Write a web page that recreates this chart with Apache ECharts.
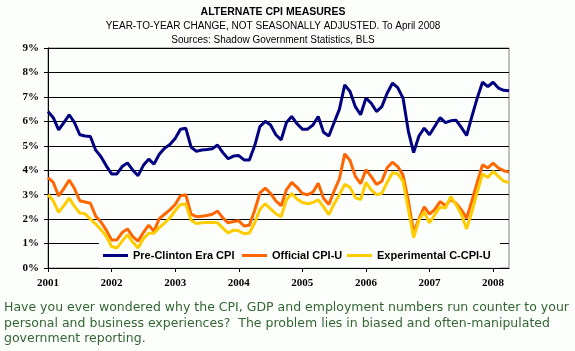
<!DOCTYPE html>
<html><head><meta charset="utf-8">
<script src="https://cdn.jsdelivr.net/npm/echarts@6/dist/echarts.min.js"></script>
<style>html,body{margin:0;padding:0;background:#FCFEFC;}#c{width:575px;height:351px;}</style>
</head><body><div id="c"></div>
<script>
const years = ['2001','2002','2003','2004','2005','2006','2007','2008'];
const monthsInLast = 4;
const titleText = 'ALTERNATE CPI MEASURES';
const subText = 'YEAR-TO-YEAR CHANGE, NOT SEASONALLY ADJUSTED. To April 2008';
const sourceText = 'Sources: Shadow Government Statistics, BLS';
const noteText = 'Have you ever wondered why the CPI, GDP and employment numbers run counter to your\npersonal and business experiences?  The problem lies in biased and often-manipulated\ngovernment reporting.';
const seriesNames = ['Pre-Clinton Era CPI', 'Official CPI-U', 'Experimental C-CPI-U'];
const preClinton = [
 6.4, 6.15, 5.65, 5.95, 6.27, 5.95, 5.45, 5.4, 5.38, 4.82, 4.55, 4.18,
 3.85, 3.85, 4.15, 4.3, 4.0, 3.78, 4.2, 4.45, 4.25, 4.65, 4.9, 5.05,
 5.3, 5.68, 5.72, 4.95, 4.77, 4.83, 4.85, 4.88, 5.03, 4.72, 4.47, 4.58,
 4.6, 4.42, 4.42, 5.0, 5.79, 6.0, 5.85, 5.45, 5.24, 5.95, 6.2, 5.9,
 5.68, 5.68, 5.85, 6.2, 5.55, 5.4, 5.95, 6.5, 7.49, 7.22, 6.6, 6.27,
 6.95, 6.74, 6.4, 6.6, 7.15, 7.56, 7.38, 6.95, 5.6, 4.72, 5.4, 5.72,
 5.45, 5.8, 6.15, 5.95, 6.02, 6.05, 5.75, 5.42, 6.2, 6.95, 7.6, 7.42,
 7.6, 7.36, 7.27, 7.25
];
const officialCPI = [
 3.7, 3.5, 2.95, 3.25, 3.6, 3.25, 2.75, 2.7, 2.65, 2.12, 1.88, 1.55,
 1.15, 1.15, 1.45, 1.6, 1.28, 1.1, 1.45, 1.75, 1.5, 2.02, 2.2, 2.38,
 2.6, 2.95, 3.0, 2.2, 2.1, 2.12, 2.15, 2.2, 2.33, 2.05, 1.85, 1.9,
 1.93, 1.72, 1.75, 2.35, 3.07, 3.27, 3.05, 2.75, 2.55, 3.2, 3.5, 3.3,
 3.05, 3.0, 3.1, 3.47, 2.85, 2.6, 3.15, 3.65, 4.67, 4.4, 3.75, 3.45,
 4.02, 3.74, 3.42, 3.55, 4.1, 4.33, 4.15, 3.8, 2.75, 1.45, 2.0, 2.5,
 2.2, 2.4, 2.72, 2.55, 2.8, 2.65, 2.38, 2.04, 2.75, 3.5, 4.22, 4.09,
 4.29, 4.09, 3.98, 3.92
];
const experimental = [
 3.0, 2.75, 2.28, 2.55, 2.86, 2.52, 2.25, 2.22, 2.0, 1.8, 1.57, 1.3,
 0.88, 0.82, 1.1, 1.36, 1.05, 0.82, 1.2, 1.42, 1.42, 1.65, 1.84, 2.05,
 2.35, 2.6, 2.62, 1.95, 1.82, 1.85, 1.86, 1.86, 1.85, 1.63, 1.43, 1.55,
 1.52, 1.4, 1.43, 1.84, 2.4, 2.63, 2.42, 2.22, 2.1, 2.79, 3.05, 2.82,
 2.68, 2.63, 2.68, 2.79, 2.5, 2.18, 2.62, 3.0, 3.42, 3.3, 2.88, 2.8,
 3.5, 3.2, 3.0, 3.05, 3.5, 3.9, 3.85, 3.55, 2.4, 1.25, 1.95, 2.3,
 1.85, 2.18, 2.5, 2.45, 2.92, 2.6, 2.2, 1.6, 2.3, 3.1, 3.85, 3.7,
 3.95, 3.75, 3.55, 3.5
];
const colors = ['#000080', '#FF6600', '#FFCC00'];

const months = [];
years.forEach((y, i) => {
  const n = i === years.length - 1 ? monthsInLast : 12;
  for (let m = 1; m <= n; m++) months.push(y + '-' + (m < 10 ? '0' + m : m));
});

const chart = echarts.init(document.getElementById('c'), null, {renderer: 'canvas'});
const serifBold = {fontFamily: 'Liberation Serif', fontWeight: 'bold', fontSize: 11, color: '#000'};
const legendText = {fontFamily: 'Liberation Sans', fontWeight: 'bold', fontSize: 11, color: '#000'};
const legendLefts = [103, 242, 347];

chart.setOption({
  backgroundColor: '#FCFEFC',
  animation: false,
  grid: {left: 48, right: 66, top: 48, bottom: 83, show: true, borderColor: '#808080', borderWidth: 1, backgroundColor: '#FCFEFC'},
  legend: seriesNames.map((n, i) => ({
    data: [n], left: legendLefts[i], top: 250, icon: 'rect', itemWidth: 25, itemHeight: 3,
    selectedMode: false, textStyle: legendText, padding: 0, z: 5
  })),
  xAxis: {
    type: 'category', data: months, boundaryGap: false,
    axisLine: {lineStyle: {color: '#000', width: 1}},
    axisTick: {show: true, length: 4, interval: (i) => i % 12 === 0, lineStyle: {color: '#000'}},
    axisLabel: Object.assign({interval: (i) => i % 12 === 0, margin: 10, formatter: (v) => v.slice(0, 4)}, serifBold),
    splitLine: {show: false}
  },
  yAxis: {
    type: 'value', min: 0, max: 9, interval: 1,
    axisLine: {show: true, lineStyle: {color: '#000', width: 1}},
    axisTick: {show: true, length: 4, lineStyle: {color: '#000'}},
    axisLabel: Object.assign({margin: 9, formatter: '{value}%'}, serifBold),
    splitLine: {show: true, lineStyle: {color: '#000', width: 1}}
  },
  graphic: [
    {type: 'rect', z: 1, shape: {x: 99, y: 243, width: 401, height: 24.5}, style: {fill: '#FCFEFC'}},
    {type: 'text', z: 10, x: 273, y: 12, style: {text: titleText, font: 'bold 10.5px "Liberation Sans"', fill: '#000', align: 'center', verticalAlign: 'middle', textAlign: 'center', textVerticalAlign: 'middle'}},
    {type: 'text', z: 10, x: 273, y: 26, style: {text: subText, font: '10px "Liberation Sans"', fill: '#000', align: 'center', verticalAlign: 'middle', textAlign: 'center', textVerticalAlign: 'middle'}},
    {type: 'text', z: 10, x: 273, y: 40, style: {text: sourceText, font: '10px "Liberation Sans"', fill: '#000', align: 'center', verticalAlign: 'middle', textAlign: 'center', textVerticalAlign: 'middle'}},
    {type: 'text', z: 10, x: 4, y: 300, style: {text: noteText, font: '12.5px "DejaVu Sans"', fill: '#336633', lineHeight: 15.5, align: 'left', verticalAlign: 'top', textAlign: 'left', textVerticalAlign: 'top'}}
  ],
  series: [preClinton, officialCPI, experimental].map((d, i) => ({
    name: seriesNames[i], type: 'line', data: d, showSymbol: false, symbol: 'none',
    z: 3 + i, lineStyle: {color: colors[i], width: 3}, itemStyle: {color: colors[i]}
  }))
});
</script></body></html>
